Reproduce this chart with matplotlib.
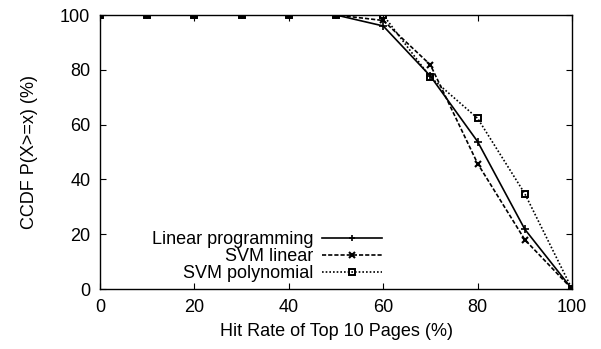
import matplotlib
matplotlib.use("Agg")
import matplotlib.pyplot as plt

hit_rate = [0, 10, 20, 30, 40, 50, 60, 70, 80, 90, 100]
linear_prog = [100, 100, 100, 100, 100, 100, 96, 77.7, 53.8, 21.8, 0]
svm_linear = [100, 100, 100, 100, 100, 100, 98, 81.8, 45.8, 18, 0]
svm_poly = [100, 100, 100, 100, 100, 100, 100, 77.3, 62.3, 34.8, 0]
xticks = [0, 20, 40, 60, 80, 100]
yticks = [0, 20, 40, 60, 80, 100]

plt.rcParams['font.family'] = ['Liberation Sans', 'DejaVu Sans']
plt.rcParams['font.size'] = 13

fig = plt.figure(figsize=(6.01, 3.49), dpi=100)
ax = fig.add_axes([100/601, 1 - 289/349, 472/601, 274/349])

ax.plot(hit_rate, linear_prog, color='black', lw=1.2, ls='-',
        marker='+', ms=6, mew=1.2, label='Linear programming')
ax.plot(hit_rate, svm_linear, color='black', lw=1.2, ls=(0, (2.5, 1.2)),
        marker='x', ms=5, mew=1.5, label='SVM linear')
ax.plot(hit_rate, svm_poly, color='black', lw=1.2, ls=(0, (1, 1.2)),
        marker='s', ms=4.6, mew=1.4, mfc='none', label='SVM polynomial')

ax.set_xlim(0, 100)
ax.set_ylim(0, 100)
ax.set_xticks(xticks)
ax.set_yticks(yticks)
ax.tick_params(direction='in', length=4, width=0.8, top=True, right=True,
               labelsize=13, pad=7)
for s in ax.spines.values():
    s.set_linewidth(1.0)

ax.set_xlabel('Hit Rate of Top 10 Pages (%)', labelpad=5)
ax.set_ylabel('CCDF P(X>=x) (%)', labelpad=16)

leg = ax.legend(loc='lower right', bbox_to_anchor=(0.597, 0.025), frameon=False,
                markerfirst=False, handlelength=3.3, handletextpad=0.5,
                labelspacing=0.0, borderaxespad=0, borderpad=0, markerscale=0.8)
for col in leg._legend_handle_box.get_children():
    col.align = 'right'

fig.savefig('out.png', dpi=100)
